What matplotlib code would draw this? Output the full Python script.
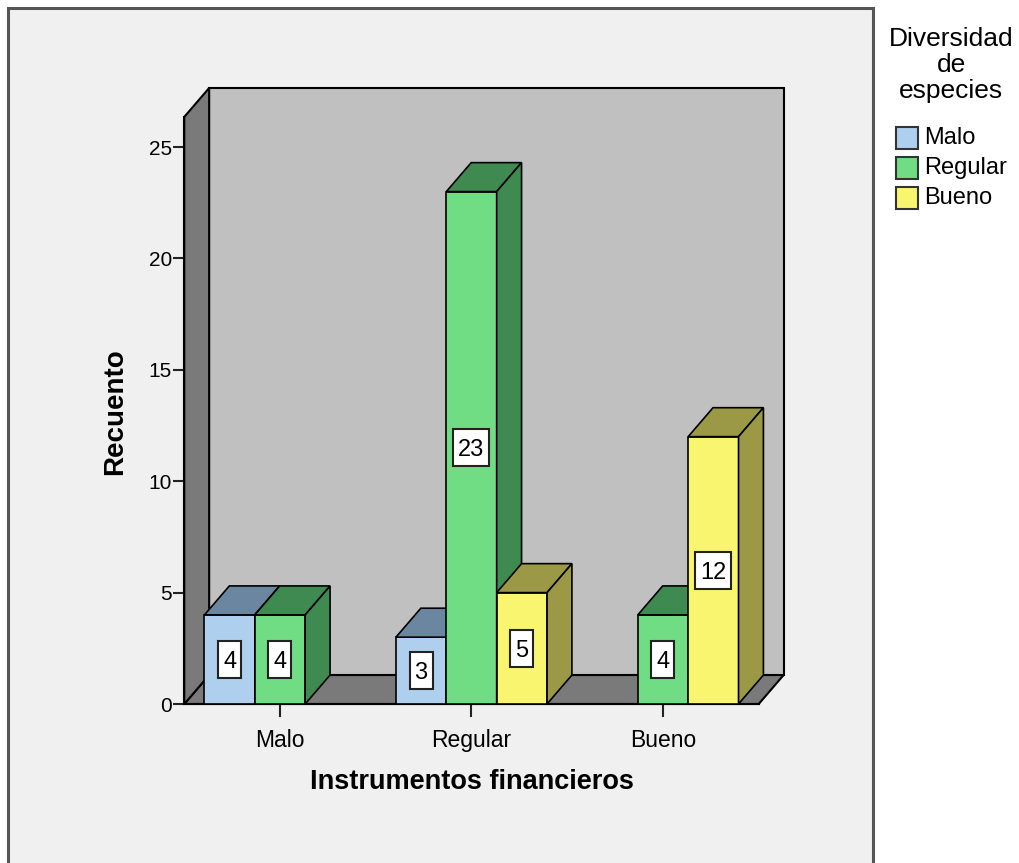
import matplotlib
matplotlib.use("Agg")
import matplotlib.pyplot as plt
from matplotlib.patches import Rectangle, Polygon
from matplotlib.transforms import ScaledTranslation

plt.rcParams['font.family'] = ['Liberation Sans', 'DejaVu Sans']

# data
categories = ['Malo', 'Regular', 'Bueno']
series_names = ['Malo', 'Regular', 'Bueno']
malo = [4, 3, 0]
regular = [4, 23, 4]
bueno = [0, 5, 12]
y_ticks = [0, 5, 10, 15, 20, 25]

front_colors = ['#aed0ee', '#70dc84', '#faf56e']
shade_colors = ['#6a86a0', '#3f8a50', '#9c9946']

W, H = 1019, 863
BAR_W = 0.263      # bar width in category units
DX, DY = 0.13, 1.3  # depth offset in data units
YTOP = 26.35        # top of the front plane

fig = plt.figure(figsize=(W / 100, H / 100), dpi=100)
fig.patch.set_facecolor('white')
fig.patches.append(Rectangle((8 / W, -0.01), (873 - 8) / W, (H - 8) / H + 0.01,
                             transform=fig.transFigure, fc='#f0f0f0', ec='#555555',
                             lw=2.2, zorder=-10))

ax = fig.add_axes([184.25 / W, (H - 704) / H, 603.2 / W, 616 / H])
ax.set_facecolor('none')
ax.set_xlim(-0.5, 2.65)
ax.set_ylim(0, YTOP + DY)

# walls and floor
ax.add_patch(Rectangle((-0.5 + DX, DY), 3.0, YTOP, fc='#c0c0c0', ec='black', lw=1.5,
                       zorder=1, clip_on=False))
ax.add_patch(Polygon([(-0.5, 0), (2.5, 0), (2.5 + DX, DY), (-0.5 + DX, DY)],
                     fc='#7a7a7a', ec='black', lw=1.5, zorder=2, clip_on=False))
ax.add_patch(Polygon([(-0.5, 0), (-0.5 + DX, DY), (-0.5 + DX, YTOP + DY), (-0.5, YTOP)],
                     fc='#7a7a7a', ec='black', lw=1.5, zorder=2, clip_on=False))

# bars, drawn left to right so each hides its neighbour's side face
series = [malo, regular, bueno]
z = 3
for c in range(len(categories)):
    for i, vals in enumerate(series):
        h = vals[c]
        if h <= 0:
            continue
        x0 = c + (i - 1) * BAR_W - BAR_W / 2
        ax.add_patch(Rectangle((x0, 0), BAR_W, h, fc=front_colors[i], ec='black',
                               lw=1.2, zorder=z))
        ax.add_patch(Polygon([(x0, h), (x0 + BAR_W, h), (x0 + BAR_W + DX, h + DY),
                              (x0 + DX, h + DY)], fc=shade_colors[i], ec='black',
                             lw=1.2, zorder=z))
        ax.add_patch(Polygon([(x0 + BAR_W, 0), (x0 + BAR_W + DX, DY),
                              (x0 + BAR_W + DX, h + DY), (x0 + BAR_W, h)],
                             fc=shade_colors[i], ec='black', lw=1.2, zorder=z))
        # label box: tall narrow white box, sized in inches around the bar centre
        xc, yc = x0 + BAR_W / 2, h / 2
        label = str(h)
        bw = (10 + 13 * len(label)) / 100
        bh = 0.37
        off = fig.dpi_scale_trans + ScaledTranslation(xc, yc, ax.transData)
        ax.add_patch(Rectangle((-bw / 2, -bh / 2), bw, bh, transform=off, fc='white',
                               ec='#222222', lw=1.5, zorder=z + 0.4))
        ax.text(xc, yc, label, ha='center', va='center_baseline', fontsize=17,
                zorder=z + 0.5)
        z += 1

for s in ['top', 'right']:
    ax.spines[s].set_visible(False)
ax.spines['left'].set_bounds(0, YTOP)
ax.spines['bottom'].set_bounds(-0.5, 2.5)
ax.spines['left'].set_linewidth(1.5)
ax.spines['bottom'].set_linewidth(1.5)
ax.spines['left'].set_zorder(2.5)
ax.spines['bottom'].set_zorder(2.5)

ax.set_yticks(y_ticks)
ax.set_xticks(range(len(categories)))
ax.set_xticklabels(categories)
ax.tick_params(axis='y', length=8, width=1.5, pad=1, labelsize=15, color='#222222')
ax.tick_params(axis='x', length=9, width=1.5, pad=9, labelsize=16.5, color='#222222')

fig.text(472 / W, (H - 782) / H, 'Instrumentos financieros', ha='center', va='center',
         fontsize=19.5, fontweight='bold')
fig.text(115 / W, (H - 411.5) / H, 'Recuento', ha='center', va='center', rotation=90,
         fontsize=20, fontweight='bold')

# legend
fig.text(951 / W, (H - 65) / H, 'Diversidad\nde\nespecies', ha='center', va='center',
         multialignment='center', fontsize=19, linespacing=1.1)
for i, name in enumerate(series_names):
    yc = 138 + i * 30
    fig.patches.append(Rectangle((896 / W, (H - yc - 11) / H), 22 / W, 22 / H,
                                 transform=fig.transFigure, fc=front_colors[i],
                                 ec='#333333', lw=1.5))
    fig.text(924 / W, (H - yc) / H, name, ha='left', va='center', fontsize=17)

fig.savefig('out.png', dpi=100)
